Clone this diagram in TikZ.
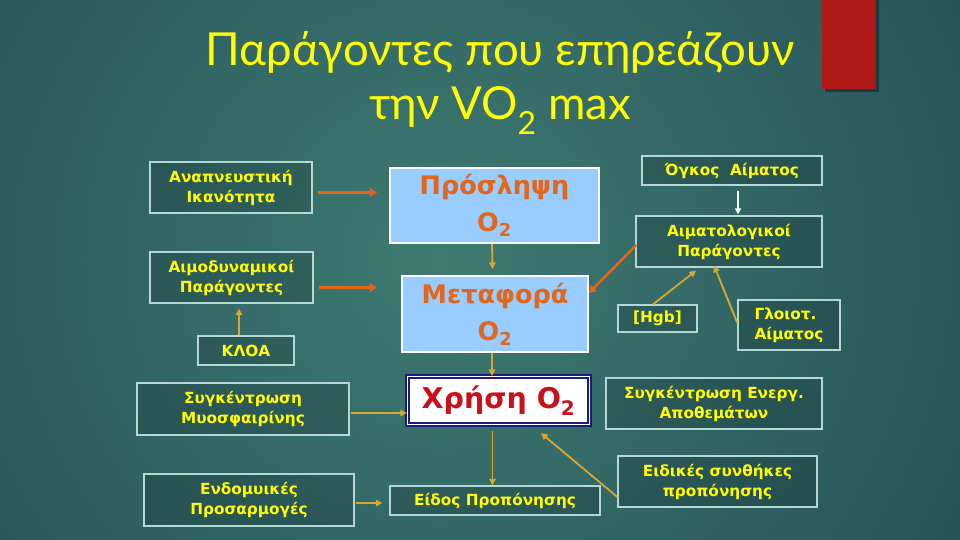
\documentclass[tikz,border=0pt]{standalone}
\usepackage{fontspec}
\setmainfont{DejaVu Sans}
\newfontfamily\titlefont{Lato}
\usetikzlibrary{arrows.meta}
\definecolor{bgin}{HTML}{3E7A72}
\definecolor{bgout}{HTML}{163847}
\definecolor{ylw}{HTML}{FFFF00}
\definecolor{boxline}{HTML}{B5D8D6}
\definecolor{org}{HTML}{E2661C}
\definecolor{gold}{HTML}{D8A930}
\definecolor{lblue}{HTML}{99CCFF}
\definecolor{navy}{HTML}{1C1C7A}
\definecolor{redt}{HTML}{C8101A}
\definecolor{redbar}{HTML}{B01A18}
\tikzset{
 ybox/.style={draw=boxline, line width=1.3pt, fill=black, fill opacity=0.15, text opacity=1, text=ylw, font=\bfseries\fontsize{15.3}{20}\selectfont, align=center, inner sep=0pt},
 bbox/.style={draw=white, line width=2pt, fill=lblue, text=org, font=\bfseries\fontsize{25.5}{37}\selectfont, align=center, inner sep=0pt},
 oarr/.style={draw=org, line width=2.6pt, -{Triangle[length=7pt,width=8pt]}},
 yarr/.style={draw=gold, line width=1.8pt, -{Triangle[length=6.5pt,width=6.5pt]}},
 warr/.style={draw=white, line width=1.5pt, -{Triangle[length=6pt,width=6pt]}},
}
\begin{document}
\begin{tikzpicture}[x=1pt,y=-1pt]
\useasboundingbox (0,0) rectangle (960,540);
\begin{scope}
\clip (0,0) rectangle (960,540);
\shade[inner color=bgin, outer color=bgout] (440,260) circle (1000);
\end{scope}
% red bar
\fill[black, opacity=0.35] (825,0) rectangle (879,92);
\fill[redbar] (822,0) rectangle (876,89);
% title
\node[font=\titlefont\fontsize{45.5}{54}\selectfont, text=ylw, align=center] (title) at (500,83) {Παράγοντες που επηρεάζουν\\την VO\textsubscript{2} max};
% left boxes
\node[ybox, minimum width=162pt, minimum height=51pt] (anap) at (231,187.5) {Αναπνευστική\\Ικανότητα};
\node[ybox, minimum width=163pt, minimum height=51pt] (aimod) at (231.5,277.5) {Αιμοδυναμικοί\\Παράγοντες};
\node[ybox, minimum width=96pt, minimum height=29pt] (kloa) at (246,350.5) {ΚΛΟΑ};
\node[ybox, minimum width=212pt, minimum height=52pt] (sygmyo) at (243,409) {Συγκέντρωση\\Μυοσφαιρίνης};
\node[ybox, minimum width=210pt, minimum height=52pt] (endo) at (249,500) {Ενδομυικές\\Προσαρμογές};
% centre
\node[bbox, minimum width=209pt, minimum height=75pt] (prosl) at (494.5,205.5) {Πρόσληψη\\O\textsubscript{2}};
\node[bbox, minimum width=186pt, minimum height=76pt] (metaf) at (495,314) {Μεταφορά\\O\textsubscript{2}};
\node[draw=navy, line width=1.3pt, double=white, double distance=1.5pt, fill=white, text=redt, font=\bfseries\fontsize{28.5}{32}\selectfont, inner sep=0pt, minimum width=182pt, minimum height=48pt] (xrisi) at (498.5,400.5) {Χρήση O\textsubscript{2}};
\node[ybox, minimum width=210pt, minimum height=29pt] (eidos) at (495,500.5) {Είδος Προπόνησης};
% right
\node[ybox, minimum width=180pt, minimum height=29pt] (ogkos) at (732,170.5) {Όγκος~~Αίματος};
\node[ybox, minimum width=186pt, minimum height=51pt] (aimat) at (729,241.5) {Αιματολογικοί\\Παράγοντες};
\node[ybox, minimum width=79pt, minimum height=27pt] (hgb) at (657.5,318.5) {[Hgb]};
\node[ybox, minimum width=102pt, minimum height=50pt, align=left] (glio) at (789,325) {Γλοιοτ.\\Αίματος};
\node[ybox, minimum width=216pt, minimum height=51pt] (energ) at (714,403.5) {Συγκέντρωση Ενεργ.\\Αποθεμάτων};
\node[ybox, minimum width=199pt, minimum height=51pt] (eidik) at (717.5,481.5) {Ειδικές συνθήκες\\προπόνησης};
% arrows
\draw[oarr] ([shift={(5,5)}]anap.east) -- ([shift={(-12,5)}]anap.east -| prosl.west);
\draw[oarr] ([shift={(5,10)}]aimod.east) -- ([shift={(-24,10)}]aimod.east -| metaf.west);
\draw[yarr] ([shift={(-7,0)}]kloa.north) -- ([shift={(-7,5)}]kloa.north |- aimod.south);
\draw[yarr] ([shift={(-2.5,0)}]prosl.south) -- ([shift={(-2.5,-6)}]metaf.north);
\draw[yarr] ([shift={(-3,0)}]metaf.south) -- ([shift={(-3,0)}]metaf.south |- xrisi.north);
\draw[yarr] ([shift={(-6,6)}]xrisi.south) -- ([shift={(-6,0)}]xrisi.south |- eidos.north);
\draw[yarr] ([shift={(1,4)}]sygmyo.east) -- ([shift={(0,4)}]sygmyo.east -| xrisi.west);
\draw[yarr] ([shift={(1,3)}]endo.east) -- ([shift={(-7,3)}]endo.east -| eidos.west);
\draw[yarr] ([shift={(0,15.5)}]eidik.west) -- ([shift={(42.5,8)}]xrisi.south);
\draw[oarr] ([shift={(1,3.5)}]aimat.west) -- ([shift={(0,-21)}]metaf.east);
\draw[yarr] ([shift={(-4.5,0)}]hgb.north) -- ([shift={(-33,3)}]aimat.south);
\draw[yarr] ([shift={(0,-2)}]glio.west) -- ([shift={(-15,-2)}]aimat.south);
\draw[warr] ([shift={(6,5)}]ogkos.south) -- ([shift={(6,-1)}]ogkos.south |- aimat.north);
\end{tikzpicture}
\end{document}
